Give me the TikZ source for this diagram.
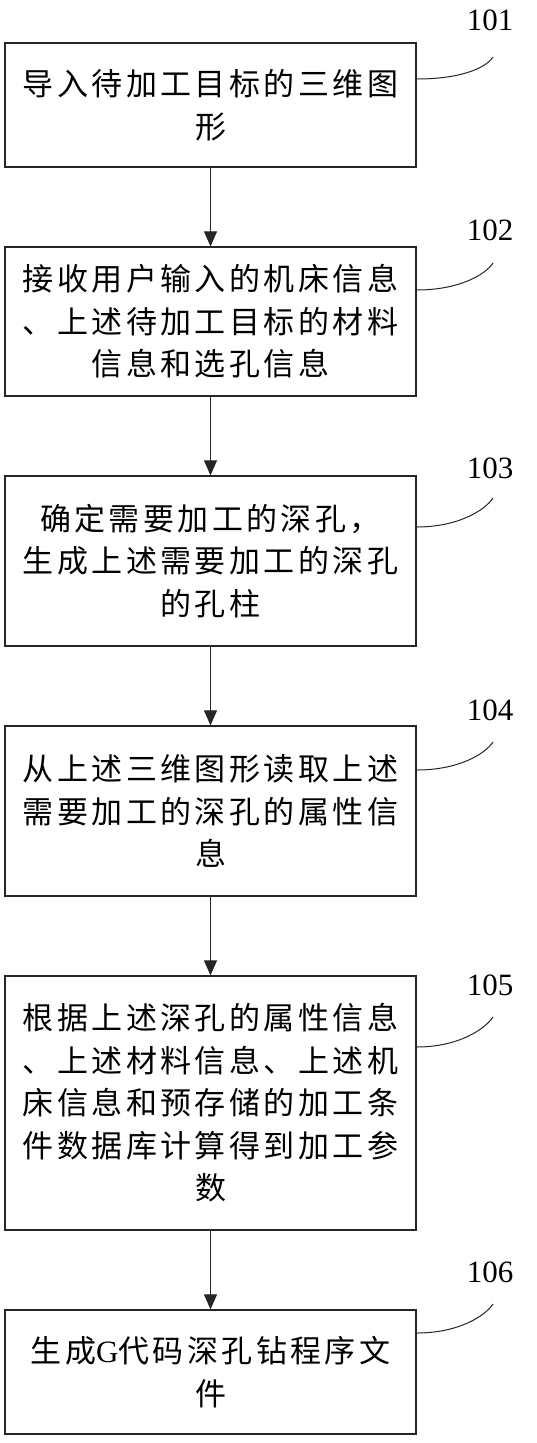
\documentclass[tikz,border=0pt]{standalone}
\usepackage{fontspec}
\setmainfont{Liberation Serif}
\newfontfamily\cjkfont[LetterSpace=11]{Noto Sans CJK SC}
\usetikzlibrary{arrows.meta}
\begin{document}
\begin{tikzpicture}[x=1pt,y=-1pt,
  stepbox/.style={draw=black!85, line width=1.3pt, minimum width=411pt, inner sep=0pt,
    align=center, font=\cjkfont\fontsize{31pt}{42.5pt}\selectfont},
  arr/.style={draw=black!85, line width=1pt, -{Triangle[length=15pt,width=13pt]}},
  lead/.style={draw=black!85, line width=1pt},
  lbl/.style={font=\fontsize{31pt}{36pt}\selectfont, inner sep=0pt}]
\useasboundingbox (0,0) rectangle (536,1443);
\fill[white] (0,0) rectangle (536,1443);

\node[stepbox, minimum height=124pt] (b1) at (210.5,105) {导入待加工目标的三维图\\形};
\node[stepbox, minimum height=149pt] (b2) at (210.5,321.5) {接收用户输入的机床信息\\、上述待加工目标的材料\\信息和选孔信息};
\node[stepbox, minimum height=170pt] (b3) at (210.5,561) {确定需要加工的深孔，\\生成上述需要加工的深孔\\的孔柱};
\node[stepbox, minimum height=170pt] (b4) at (210.5,811) {从上述三维图形读取上述\\需要加工的深孔的属性信\\息};
\node[stepbox, minimum height=254pt] (b5) at (210.5,1103) {根据上述深孔的属性信息\\、上述材料信息、上述机\\床信息和预存储的加工条\\件数据库计算得到加工参\\数};
\node[stepbox, minimum height=124pt] (b6) at (210.5,1372) {生成{\rmfamily G}代码深孔钻程序文\\件};

\draw[arr] (b1.south) -- (b2.north);
\draw[arr] (b2.south) -- (b3.north);
\draw[arr] (b3.south) -- (b4.north);
\draw[arr] (b4.south) -- (b5.north);
\draw[arr] (b5.south) -- (b6.north);

\node[lbl] (l1) at (490,20) {101};
\node[lbl] (l2) at (490,230) {102};
\node[lbl] (l3) at (490,468) {103};
\node[lbl] (l4) at (490,710) {104};
\node[lbl] (l5) at (490,985) {105};
\node[lbl] (l6) at (490,1272) {106};

\coordinate (e1) at (493,57);
\coordinate (e2) at (493,263);
\coordinate (e3) at (493,498);
\coordinate (e4) at (493,742);
\coordinate (e5) at (493,1017);
\coordinate (e6) at (493,1304);

\draw[lead] (b1.east |- 0,79) .. controls +(42,0) and +(-8,12) .. (e1);
\draw[lead] (b2.east |- 0,290) .. controls +(42,0) and +(-8,12) .. (e2);
\draw[lead] (b3.east |- 0,527) .. controls +(42,0) and +(-8,12) .. (e3);
\draw[lead] (b4.east |- 0,770) .. controls +(42,0) and +(-8,12) .. (e4);
\draw[lead] (b5.east |- 0,1047) .. controls +(42,0) and +(-8,12) .. (e5);
\draw[lead] (b6.east |- 0,1333) .. controls +(42,0) and +(-8,12) .. (e6);
\end{tikzpicture}
\end{document}
